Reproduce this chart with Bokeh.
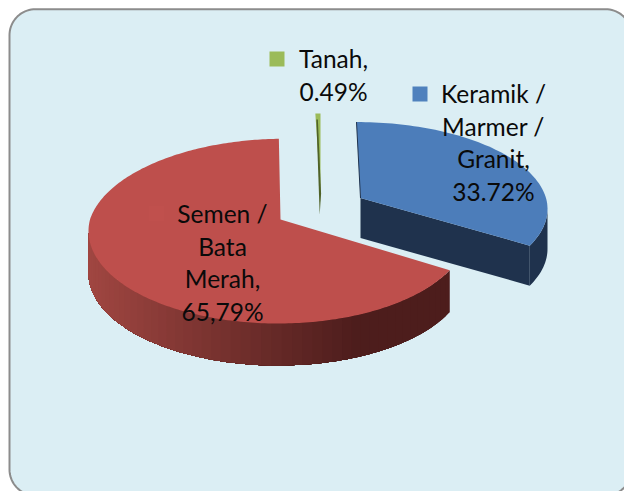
import numpy as np
from bokeh.plotting import figure
from bokeh.models import Range1d
from bokeh.core.properties import value
from bokeh.embed import file_html
from bokeh.resources import INLINE

categories = ["Keramik / Marmer / Granit", "Semen / Bata Merah", "Tanah"]
shares = [33.72, 65.79, 0.49]
label_lines = [["Keramik /", "Marmer /", "Granit,", "33.72%"],
               ["Semen /", "Bata", "Merah,", "65,79%"],
               ["Tanah,", "0.49%"]]
top_colors = ["#4c7dba", "#be4f4c", "#9bbb59"]
side_colors = ["#1f324d", "#4d1d1c", "#4f6228"]
key_colors = ["#4f81bd", "#c0504d", "#9bbb59"]

apexes = [(360, 197.5), (280, 219), (320, 193)]
rim_shift = [-2.5, -2.5, 0.0]
rim_lean = [-1.5, 6.0, 0.0]
ry_scale = [0.95, 1.01, 1.0]
label_pos = [(493, 93), (222, 213), (333, 58)]
key_pos = [(419.5, 93.5), (156, 213), (276.5, 58.5)]
RX, RY, K, DEPTH = 188.0, 90.0, 0.126, 40.0

W, H = 624, 491
p = figure(width=W, height=H, output_backend="svg", toolbar_location=None,
           x_range=Range1d(0, W), y_range=Range1d(H, 0),
           min_border=0, outline_line_color=None, background_fill_color="white",
           border_fill_color="white")
p.axis.visible = False
p.grid.visible = False

# panel
R = 26
L, T, Rt, B = 9, 8.7, 631, 495
a = np.linspace(0, np.pi / 2, 20)
px = np.r_[L + R - R * np.cos(a), Rt - R + R * np.sin(a), Rt - R + R * np.cos(a), L + R - R * np.sin(a)]
py = np.r_[T + R - R * np.sin(a), T + R - R * np.cos(a), B - R + R * np.sin(a), B - R + R * np.cos(a)]
p.patch(px, py, fill_color="#dbeef4", line_color="#8c8c8c", line_width=2)


def rim(i, th):
    ap = apexes[i]
    u, v = np.sin(th), np.cos(th)
    s = 1 / (1 + K * v)
    return (ap[0] + rim_shift[i] + rim_lean[i] * np.maximum(v, 0) + RX * u * s,
            ap[1] - RY * ry_scale[i] * v * s)


edges = np.r_[0, np.cumsum(shares)] / sum(shares) * 2 * np.pi


def mix(c0, c1, t):
    return "#%02x%02x%02x" % tuple(int(round(a + (b - a) * t)) for a, b in zip(c0, c1))


# blue slice
ap = apexes[0]
th = np.linspace(edges[0], edges[1], 80)
x, y = rim(0, th)
i0 = int(np.argmax(x))
sx = np.r_[x[i0:], x[i0:][::-1]]
sy = np.r_[y[i0:], y[i0:][::-1] + DEPTH]
p.patch(sx, sy, fill_color=side_colors[0], line_color=None)
p.patch([ap[0], x[-1], x[-1], ap[0]], [ap[1], y[-1], y[-1] + DEPTH, ap[1] + DEPTH],
        fill_color=side_colors[0], line_color=None)
p.patch(np.r_[ap[0], x], np.r_[ap[1], y], fill_color=top_colors[0], line_color=None)
p.line([x[0], ap[0]], [y[0], ap[1]], line_color=side_colors[0], line_width=1)

# red slice: side wall in overlapping colour bands, right to left
ap = apexes[1]
th = np.linspace(edges[1], edges[2], 260)
x, y = rim(1, th)
i1 = int(np.argmin(x))
for j in range(0, i1, 3):
    t = (x[j] - 90.0) / (360.0 - 90.0)
    c = mix((160, 70, 65), (77, 29, 28), min(1, max(0, t)))
    bx, by = x[j:i1 + 1], y[j:i1 + 1]
    p.patch(np.r_[bx, bx[::-1]], np.r_[by, by[::-1] + DEPTH + 2], fill_color=c, line_color=None)
p.patch(np.r_[ap[0], x], np.r_[ap[1], y], fill_color=top_colors[1], line_color=None)

# green slice
ap = apexes[2]
th = np.linspace(edges[2], edges[3], 6)
x, y = rim(2, th)
p.patch(np.r_[ap[0], x], np.r_[ap[1], y], fill_color=top_colors[2], line_color=None)
p.patch([x[0] + 1, x[0] + 2.5, ap[0] + 0.6, ap[0] - 0.8], [y[0] + 6, y[0] + 6, ap[1], ap[1] + 21],
        fill_color=side_colors[2], line_color=None)

# keys and labels
for col, (kx, ky) in zip(key_colors, key_pos):
    p.rect([kx], [ky], width=15, height=15, fill_color=col, line_color=None)
for lines, (lx, ly) in zip(label_lines, label_pos):
    ys = [ly + i * 32.6 for i in range(len(lines))]
    p.text([lx] * len(lines), ys, text=lines, text_align="center", text_baseline="alphabetic",
           text_font=value("Lato"), text_font_size="24.5px", text_color="#0a0a0a")

open("out.html", "w").write(file_html(p, INLINE))
